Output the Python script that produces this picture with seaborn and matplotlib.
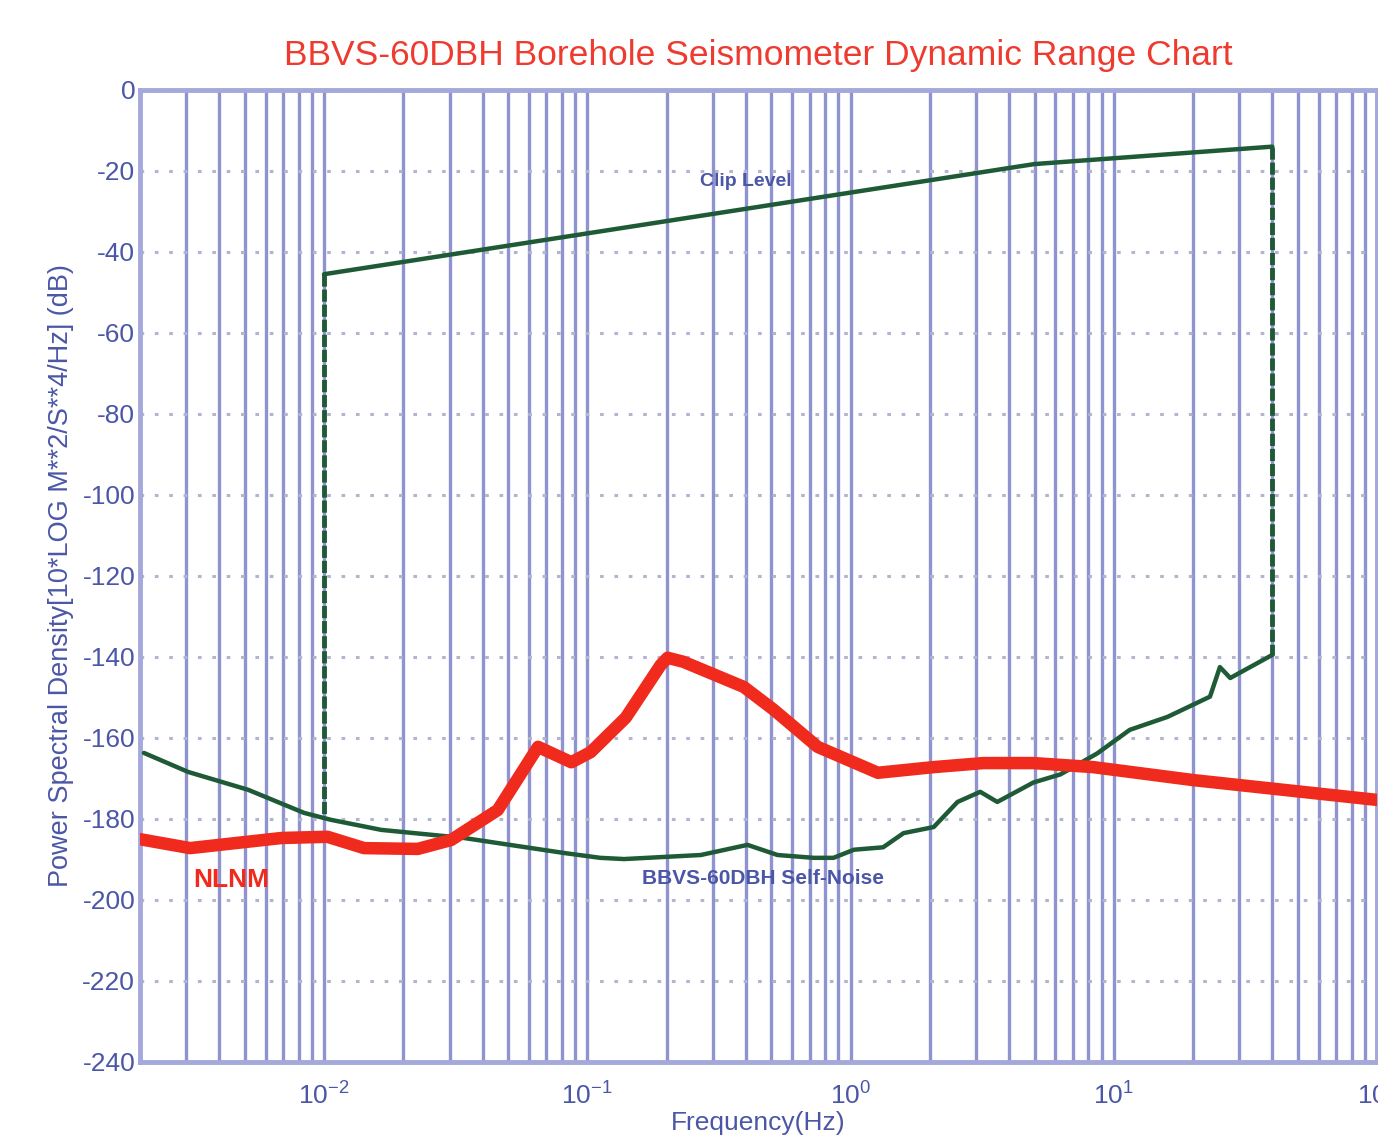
import numpy as np
import pandas as pd
import seaborn as sns
import matplotlib
matplotlib.use('Agg')
import matplotlib.pyplot as plt
from matplotlib.ticker import LogLocator

# Data
# Clip level (upper green line)
clip_freq = [0.01, 5.0, 40.0]
clip_db = [-45.5, -18.3, -14.0]

# BBVS-60DBH self-noise (lower green line)
noise_freq = [0.00207, 0.00305, 0.00515, 0.0084, 0.0106, 0.0165, 0.034, 0.0815,
              0.112, 0.138, 0.27, 0.406, 0.528, 0.724, 0.862, 1.03, 1.33, 1.59,
              2.07, 2.55, 3.11, 3.61, 4.95, 6.27, 8.66, 11.5, 16.0, 23.2, 25.3,
              27.7, 40.0]
noise_db = [-163.7, -168.4, -172.8, -178.5, -180.2, -182.7, -184.7, -188.4,
            -189.6, -189.9, -188.9, -186.4, -188.9, -189.6, -189.6, -187.6, -187.0, -183.5,
            -182.0, -175.8, -173.3, -175.8, -171.0, -169.0, -163.8, -158.0, -154.8, -149.8, -142.5,
            -145.2, -139.5]

# Peterson new low noise model (red)
nlnm_freq = [0.002, 0.0031, 0.0069, 0.0103, 0.0142, 0.0227, 0.0304, 0.0457,
             0.065, 0.087, 0.103, 0.14, 0.19, 0.202, 0.232, 0.393, 0.51, 0.75,
             1.27, 2.07, 3.2, 4.95, 8.35, 20.0, 100.0]
nlnm_db = [-185.0, -187.2, -184.7, -184.4, -187.2, -187.4, -185.2, -177.8,
           -162.2, -166.0, -163.5, -155.0, -142.0, -140.2, -141.2, -147.4, -153.0, -162.2,
           -168.6, -167.2, -166.2, -166.2, -167.2, -170.4, -175.3]

# vertical dashed connectors of the clip level
edge_freq = [0.01, 0.01, 40.0, 40.0]
edge_db = [-45.5, -180.0, -14.0, -139.5]
edge_side = ['low', 'low', 'high', 'high']

y_ticks = list(range(0, -241, -20))

grid_col = '#8f94d0'
text_col = '#4b57a6'
green = '#1f5a36'
red = '#f02a1c'

sns.set_theme(style='white')
plt.rcParams['font.family'] = ['Liberation Sans', 'DejaVu Sans']
plt.rcParams['axes.unicode_minus'] = False

fig = plt.figure(figsize=(13.78, 11.37), dpi=100)
ax = fig.add_axes([0.1016, 0.066, 0.8977, 0.8549])

clip_df = pd.DataFrame({'freq': clip_freq, 'db': clip_db})
noise_df = pd.DataFrame({'freq': noise_freq, 'db': noise_db})
nlnm_df = pd.DataFrame({'freq': nlnm_freq, 'db': nlnm_db})
edge_df = pd.DataFrame({'freq': edge_freq, 'db': edge_db, 'side': edge_side})

sns.lineplot(data=nlnm_df, x='freq', y='db', color=red, lw=9, ax=ax,
             estimator=None, sort=False, zorder=4)
sns.lineplot(data=noise_df, x='freq', y='db', color=green, lw=3.2, ax=ax,
             estimator=None, sort=False, zorder=3)
sns.lineplot(data=clip_df, x='freq', y='db', color=green, lw=3.2, ax=ax,
             estimator=None, sort=False, zorder=3)
for side, grp in edge_df.groupby('side'):
    ax.plot(grp['freq'], grp['db'], color=green, lw=3.5, ls=(0, (2.5, 0.6)), zorder=3)

ax.set_xscale('log')
ax.set_xlim(0.002, 100)
ax.set_ylim(-240, 0)
ax.set_yticks(y_ticks)
ax.xaxis.set_major_locator(LogLocator(base=10, numticks=10))
ax.xaxis.set_minor_locator(LogLocator(base=10, subs=np.arange(2, 10), numticks=20))

ax.grid(which='both', axis='x', color=grid_col, lw=2.4, ls='-', zorder=1)
ax.grid(which='major', axis='y', color='#b3b5cf', lw=2.2, ls=(0, (1.2, 3.5)), zorder=1)

for sp in ax.spines.values():
    sp.set_color('#a4a8da')
    sp.set_linewidth(3.5)

ax.tick_params(axis='both', which='both', direction='in', colors=grid_col,
               labelcolor=text_col, labelsize=19, length=5, width=2)
ax.tick_params(axis='x', which='minor', length=0)
ax.tick_params(axis='x', pad=15)

ax.set_title('BBVS-60DBH Borehole Seismometer Dynamic Range Chart',
             color='#ee3b2f', fontsize=25.5, pad=18)
ax.set_ylabel('Power Spectral Density[10*LOG M**2/S**4/Hz] (dB)', color=text_col,
              fontsize=19.5, labelpad=6)
ax.set_xlabel('Frequency(Hz)', color=text_col, fontsize=19, labelpad=1)

ax.text(0.40, -22.7, 'Clip Level', color=text_col, fontsize=14,
        ha='center', va='center', fontweight='bold')
ax.text(0.464, -194.6, 'BBVS-60DBH Self-Noise', color=text_col, fontsize=15,
        ha='center', va='center', fontweight='bold')
ax.text(0.00443, -195.0, 'NLNM', color=red, fontsize=19,
        ha='center', va='center', fontweight='bold')

fig.savefig('out.png', dpi=100)
